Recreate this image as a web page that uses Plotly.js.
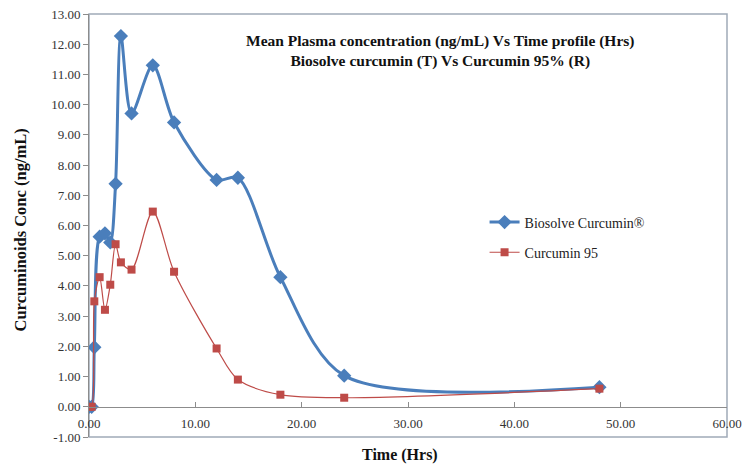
<!DOCTYPE html>
<html>
<head>
<meta charset="utf-8">
<script src="https://cdn.plot.ly/plotly-3.0.1.min.js"></script>
<style>html,body{margin:0;padding:0;background:#fff;}#chart{width:744px;height:465px;}</style>
</head>
<body>
<div id="chart"></div>
<script>
var timeHrs = [0, 0.25, 0.5, 1, 1.5, 2, 2.5, 3, 4, 6, 8, 12, 14, 18, 24, 48];
var biosolve = [0, 0, 1.97, 5.63, 5.74, 5.44, 7.38, 12.27, 9.71, 11.30, 9.41, 7.51, 7.58, 4.29, 1.03, 0.65];
var curcumin95 = [0, 0, 3.49, 4.29, 3.21, 4.04, 5.38, 4.78, 4.54, 6.46, 4.47, 1.93, 0.90, 0.40, 0.30, 0.60];
var seriesNames = ["Biosolve Curcumin®", "Curcumin 95"];
var titleLines = ["Mean Plasma concentration (ng/mL) Vs Time profile (Hrs)", "Biosolve curcumin (T) Vs Curcumin 95% (R)"];
var xTitle = "Time (Hrs)";
var yTitle = "Curcuminoids Conc (ng/mL)";
var xTickVals = [0, 10, 20, 30, 40, 50, 60];
var yTickVals = [-1, 0, 1, 2, 3, 4, 5, 6, 7, 8, 9, 10, 11, 12, 13];

var traces = [
  {x: timeHrs, y: biosolve, name: seriesNames[0], type: 'scatter', mode: 'lines+markers',
   legendgroup: 'a',
   line: {color: '#4a7ebb', width: 3, shape: 'spline', smoothing: 0.85},
   marker: {symbol: 'diamond', size: 11, color: '#4a7ebb'}},
  {x: timeHrs, y: curcumin95, name: seriesNames[1], type: 'scatter', mode: 'lines+markers',
   legendgroup: 'b',
   line: {color: '#be4b48', width: 1.2, shape: 'spline', smoothing: 0.85},
   marker: {symbol: 'square', size: 8, color: '#be4b48'}}
];

var serif = 'Liberation Serif, Times New Roman, serif';

var layout = {
  width: 744, height: 465,
  margin: {l: 89, r: 17, t: 14, b: 28},
  paper_bgcolor: '#ffffff', plot_bgcolor: '#ffffff',
  showlegend: true,
  legend: {x: 0.62, y: 0.545, xanchor: 'left', yanchor: 'top', bgcolor: 'rgba(0,0,0,0)',
    font: {family: serif, size: 14, color: '#222'}, tracegroupgap: 9, itemwidth: 30},
  xaxis: {range: [0, 60], tickvals: xTickVals, ticktext: xTickVals.map(function(v){return v.toFixed(2);}),
    anchor: 'free', position: 1/14, showline: true, linecolor: '#8c8c8c', linewidth: 1,
    ticks: 'inside', ticklen: 5, tickcolor: '#8c8c8c', showgrid: false, zeroline: false,
    ticklabelstandoff: 5,
    tickfont: {family: serif, size: 13, color: '#333'}},
  yaxis: {range: [-1, 13], tickvals: yTickVals, ticktext: yTickVals.map(function(v){return v.toFixed(2);}),
    showline: true, linecolor: '#8c8c8c', linewidth: 1, ticks: 'outside', ticklen: 5, tickcolor: '#8c8c8c',
    showgrid: false, zeroline: false, tickfont: {family: serif, size: 13, color: '#333'}},
  shapes: [
    {type: 'rect', xref: 'paper', yref: 'paper', x0: 0, x1: 1, y0: 0, y1: 1, line: {color: '#a0aab8', width: 1.5}, layer: 'below'}
  ],
  annotations: [
    {text: '<b>' + titleLines[0] + '</b><br><b>' + titleLines[1] + '</b>', xref: 'paper', yref: 'paper',
     x: 0.55, y: 0.962, showarrow: false, font: {family: serif, size: 15.5, color: '#111'}, align: 'center'},
    {text: '<b>' + xTitle + '</b>', xref: 'paper', yref: 'paper', x: 0.4875, y: -0.043, yanchor: 'middle',
     showarrow: false, font: {family: serif, size: 16, color: '#111'}},
    {text: '<b>' + yTitle + '</b>', xref: 'paper', yref: 'paper', x: -0.125, y: 0.49, textangle: -90,
     showarrow: false, font: {family: serif, size: 16.5, color: '#111'}}
  ]
};

Plotly.newPlot('chart', traces, layout, {displayModeBar: false, staticPlot: true});
</script>
</body>
</html>
